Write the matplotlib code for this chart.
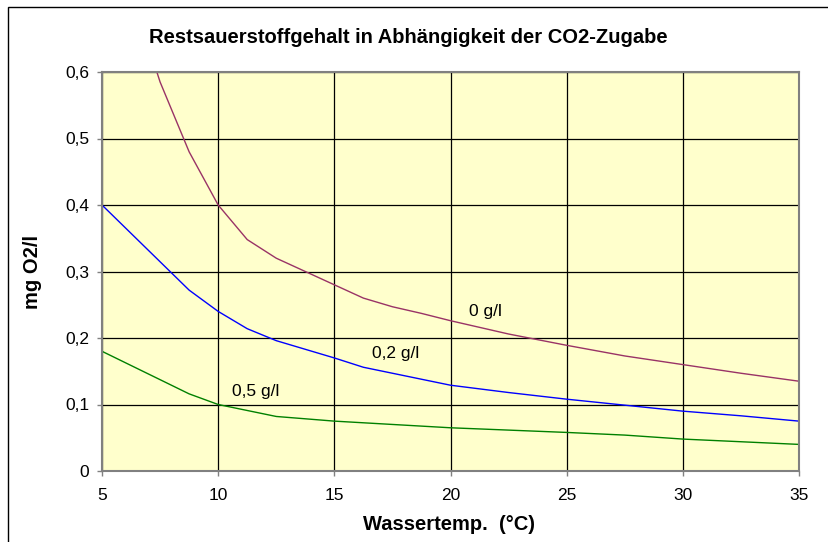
import matplotlib
matplotlib.use('Agg')
import matplotlib.pyplot as plt
import matplotlib.patches as patches

plt.rcParams['font.family'] = ['Liberation Sans', 'DejaVu Sans']

# Restsauerstoff (mg O2/l) je Wassertemperatur und CO2-Zugabe
temp_0 = [6.25, 7.5, 8.75, 10, 11.25, 12.5, 13.75, 15, 16.25, 17.5, 18.75, 20, 22.5, 25, 27.5, 30, 32.5, 35]
o2_0 = [0.72, 0.585, 0.48, 0.40, 0.348, 0.320, 0.300, 0.280, 0.260, 0.247, 0.237, 0.226, 0.206, 0.189, 0.173, 0.160, 0.147, 0.135]

temp_02 = [5, 8.75, 10, 11.25, 12.5, 13.75, 15, 16.25, 17.5, 18.75, 20, 22.5, 25, 27.5, 30, 32.5, 35]
o2_02 = [0.40, 0.272, 0.240, 0.214, 0.196, 0.183, 0.170, 0.156, 0.147, 0.138, 0.129, 0.118, 0.108, 0.099, 0.090, 0.083, 0.075]

temp_05 = [5, 8.75, 10, 12.5, 15, 17.5, 20, 25, 27.5, 30, 35]
o2_05 = [0.18, 0.116, 0.100, 0.082, 0.075, 0.070, 0.065, 0.058, 0.054, 0.048, 0.040]

x_ticks = [5, 10, 15, 20, 25, 30, 35]
y_ticks = [0, 0.1, 0.2, 0.3, 0.4, 0.5, 0.6]
y_labels = ['0', '0,1', '0,2', '0,3', '0,4', '0,5', '0,6']

fig = plt.figure(figsize=(8.29, 5.42), dpi=100)
fig.patch.set_facecolor('white')

# Rahmen um das Diagramm (nur links/oben sichtbar)
frame = patches.Rectangle((8 / 829, -0.05), 1.2, 1 - 7 / 542 + 0.05, transform=fig.transFigure,
                          fill=False, edgecolor='black', linewidth=1.0)
fig.patches.append(frame)

ax = fig.add_axes([102 / 829, 1 - 471 / 542, (799 - 102) / 829, (471 - 72) / 542])
ax.set_facecolor('#FFFFCC')

ax.plot(temp_0, o2_0, color='#993366', linewidth=1.0)
ax.plot(temp_02, o2_02, color='#0000FF', linewidth=1.0)
ax.plot(temp_05, o2_05, color='#008000', linewidth=1.0)

ax.set_xlim(5, 35)
ax.set_ylim(0, 0.6)
ax.set_xticks(x_ticks)
ax.set_yticks(y_ticks)
ax.set_yticklabels(y_labels)

ax.grid(True, color='black', linewidth=0.9)
ax.set_axisbelow(True)
for s in ax.spines.values():
    s.set_color('#808080')
    s.set_linewidth(1.5)
ax.tick_params(direction='out', length=3.6, width=1, color='#808080', labelsize=12.5)
ax.tick_params(axis='x', pad=9)
ax.tick_params(axis='y', pad=5.5)

ax.text(21.5, 0.24, '0 g/l', fontsize=12.5, ha='center', va='center')
ax.text(17.65, 0.176, '0,2 g/l', fontsize=12.5, ha='center', va='center')
ax.text(11.6, 0.12, '0,5 g/l', fontsize=12.5, ha='center', va='center')

fig.text(408 / 829, 1 - 38 / 542, 'Restsauerstoffgehalt in Abhängigkeit der CO2-Zugabe',
         fontsize=14.5, fontweight='bold', ha='center', va='center')
ax.set_xlabel('Wassertemp.  (°C)', fontsize=14.5, fontweight='bold', va='center')
ax.xaxis.set_label_coords(0.498, -0.135)
ax.set_ylabel('mg O2/l', fontsize=14.5, fontweight='bold', va='center')
ax.yaxis.set_label_coords(-0.099, 0.499)

fig.savefig('out.png', dpi=100)
